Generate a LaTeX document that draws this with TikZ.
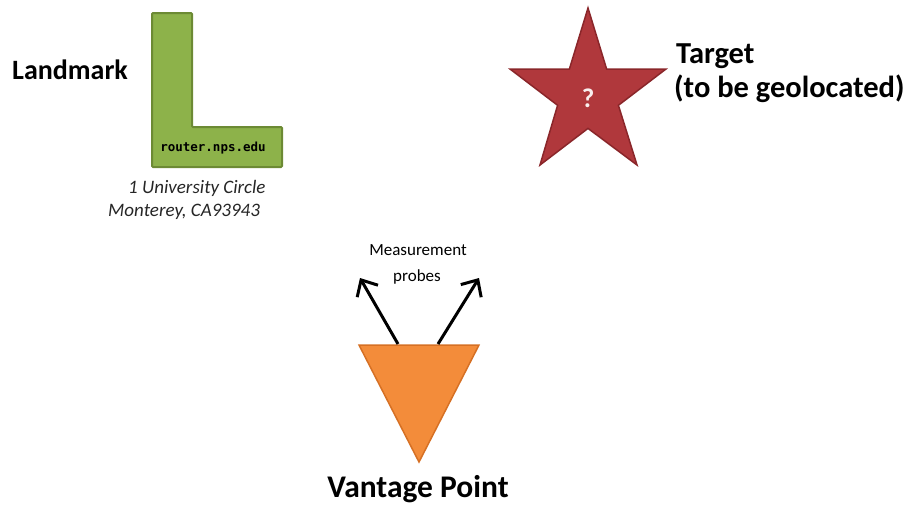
\documentclass[tikz,border=0pt]{standalone}
\usepackage{fontspec}
\setmainfont{Carlito}
\newfontfamily\monof{DejaVu Sans Mono}
\usetikzlibrary{arrows.meta}
\definecolor{lmfill}{RGB}{141,178,74}
\definecolor{lmdraw}{RGB}{108,138,52}
\definecolor{tgfill}{RGB}{176,56,60}
\definecolor{tgdraw}{RGB}{138,38,42}
\definecolor{vpfill}{RGB}{243,140,58}
\definecolor{vpdraw}{RGB}{214,112,36}
\tikzset{
  title/.style={font=\bfseries\fontsize{30.5}{34}\selectfont, inner sep=0pt},
  addr/.style={font=\itshape\fontsize{19}{22}\selectfont, text=black!85, inner sep=0pt},
  probe/.style={draw=black, line width=3pt, -{Straight Barb[length=13pt,width=24pt,line width=3pt]}},
}
\begin{document}
\begin{tikzpicture}[x=1pt,y=-1pt]
\useasboundingbox (0,0) rectangle (910,504);
% Landmark
\draw[fill=lmfill, draw=lmdraw, line width=2pt, rounded corners=1pt]
  (152,13) -- (192,13) -- (192,127) -- (282,127) -- (282,167) -- (152,167) -- cycle;
\node[anchor=base, inner sep=0pt, font=\monof\bfseries\fontsize{12.5}{14}\selectfont] (host) at (213,151) {router.nps.edu};
\node[title, font=\bfseries\fontsize{28}{32}\selectfont, anchor=base west] (landmark) at (12,79) {Landmark};
\node[addr, anchor=base west] (addr1) at (128,193) {1 University Circle};
\node[addr, anchor=base west] (addr2) at (108,216) {Monterey, CA93943};
% Target star
\draw[fill=tgfill, draw=tgdraw, line width=1.5pt, line join=miter]
  (588,8) -- (606.6,69) -- (666,69) -- (618.4,105.3) -- (637,165) -- (588,128.4)
  -- (540,165) -- (557.6,105.3) -- (510,69) -- (569.4,69) -- cycle;
\node[inner sep=0pt, text=white!92!tgfill, font=\bfseries\fontsize{27}{30}\selectfont] (q) at (588,98) {?};
\node[title, anchor=base west] (target) at (676,63) {Target};
\node[title, anchor=base west] (target2) at (674,97) {(to be geolocated)};
% Vantage point
\draw[fill=vpfill, draw=vpdraw, line width=1.5pt] (359,345) -- (479,345) -- (419,462) -- cycle;
\coordinate (vl) at (398,344);
\coordinate (vr) at (438,344);
\coordinate (tl) at (360,278);
\coordinate (tr) at (479,278);
\draw[probe] (vl) -- (tl);
\draw[probe] (vr) -- (tr);
\node[inner sep=0pt, anchor=base, font=\fontsize{17}{20}\selectfont] (meas) at (418,255) {Measurement};
\node[inner sep=0pt, anchor=base, font=\fontsize{17}{20}\selectfont] (probes) at (417,281) {probes};
\node[title, font=\bfseries\fontsize{31.5}{36}\selectfont, anchor=base] (vp) at (418,497) {Vantage Point};
\end{tikzpicture}
\end{document}
